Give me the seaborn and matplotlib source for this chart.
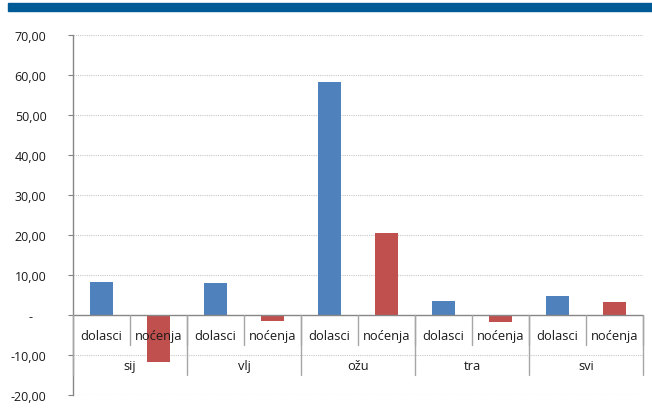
import matplotlib
matplotlib.use("Agg")
import matplotlib.pyplot as plt
import pandas as pd
import seaborn as sns

# Monthly change (%) of tourist arrivals and overnight stays
months = ["sij", "vlj", "ožu", "tra", "svi"]
series = ["dolasci", "noćenja"]
dolasci = [8.2, 8.0, 58.3, 3.4, 4.8]
nocenja = [-11.7, -1.4, 20.5, -1.7, 3.25]
y_ticks = [-20, -10, 0, 10, 20, 30, 40, 50, 60, 70]

colors = {"dolasci": "#4f81bd", "noćenja": "#c0504d"}

rows = []
for m, d, n in zip(months, dolasci, nocenja):
    rows.append({"slot": f"{m}|dolasci", "serija": "dolasci", "vrijednost": d})
    rows.append({"slot": f"{m}|noćenja", "serija": "noćenja", "vrijednost": n})
df = pd.DataFrame(rows)
order = list(df["slot"])

sns.set_theme(style="white")
plt.rcParams["font.family"] = ["Open Sans", "DejaVu Sans"]

fig = plt.figure(figsize=(6.52, 4.10), dpi=100)
ax = fig.add_axes([73 / 652, 1 - 396 / 410, 570 / 652, 360 / 410])

sns.barplot(data=df, x="slot", y="vrijednost", hue="serija", order=order,
            palette=colors, dodge=False, width=0.4, saturation=1, ax=ax,
            legend=False, edgecolor="none", zorder=3)

ax.set_xlim(-0.5, len(order) - 0.5)
ax.set_ylim(-20, 70)
ax.set_yticks(y_ticks)

def fmt(v):
    if v == 0:
        return "-    "
    return f"{v:.2f}".replace(".", ",")

ax.set_yticklabels([fmt(v) for v in y_ticks], fontsize=9, color="#1a1a1a")
ax.tick_params(axis="y", direction="out", length=3.6, width=0.8,
               color="#868686", pad=15.5, left=True)
ax.set_xticks([])
ax.set_xlabel("")
ax.set_ylabel("")

# dotted gridlines
for v in y_ticks:
    if v != 0:
        ax.axhline(v, color="#c8c8c8", lw=0.8, ls=(0, (1, 1)), zorder=1)
ax.axhline(0, color="#868686", lw=1.0, zorder=4)

for s in ["top", "right", "bottom"]:
    ax.spines[s].set_visible(False)
ax.spines["left"].set_color("#868686")
ax.spines["left"].set_linewidth(1.0)

# two-level category axis drawn below the zero line
for i, slot in enumerate(order):
    m, s = slot.split("|")
    ax.text(i, -5.2, s, ha="center", va="center", fontsize=9.3,
            color="#1a1a1a", zorder=5)
    # short separators between series labels
    ax.plot([i + 0.5, i + 0.5], [0, -7.5], color="#a6a6a6", lw=1.0,
            zorder=4, clip_on=False)
for j, m in enumerate(months):
    ax.text(2 * j + 0.5, -12.7, m, ha="center", va="center", fontsize=9.3,
            color="#1a1a1a", zorder=5)
    ax.plot([2 * j + 1.5, 2 * j + 1.5], [0, -15], color="#a6a6a6", lw=1.0,
            zorder=4, clip_on=False)
ax.plot([-0.5, -0.5], [0, -15], color="#a6a6a6", lw=1.0, zorder=4,
        clip_on=False)

# header band
fig.patches.append(plt.Rectangle((8 / 652, 1 - 12 / 410), 644 / 652, 8 / 410,
                                 transform=fig.transFigure, color="#005a96",
                                 zorder=0))

fig.savefig("out.png", dpi=100)
